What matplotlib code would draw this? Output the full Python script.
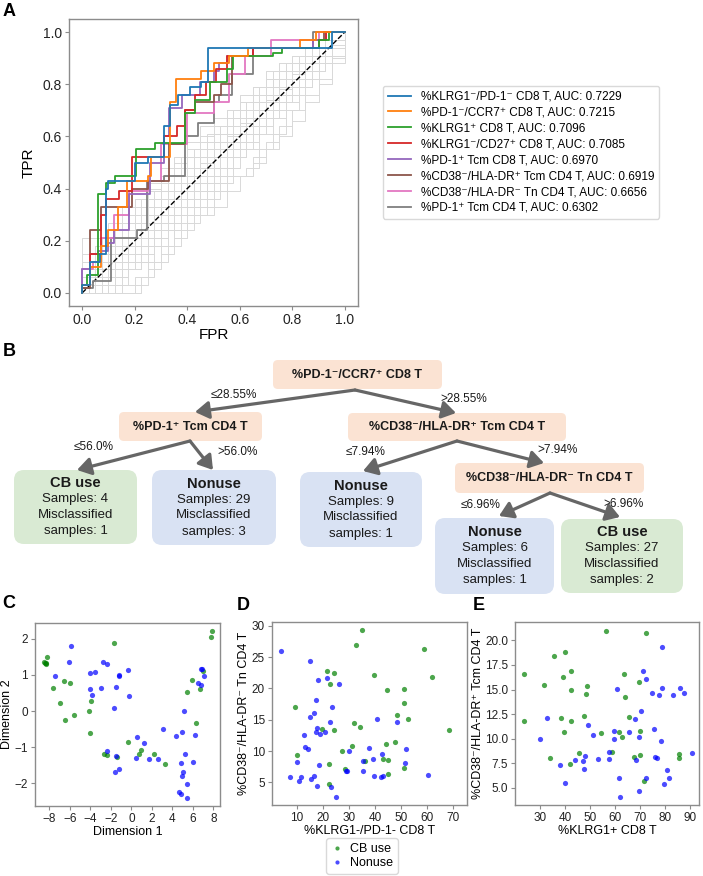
import numpy as np
import matplotlib.pyplot as plt
from matplotlib.patches import FancyBboxPatch, FancyArrowPatch
from matplotlib.lines import Line2D

plt.rcParams['font.family'] = ['Liberation Sans', 'DejaVu Sans']

# ---------------- Panel A: ROC curves ----------------
roc_names = ['%KLRG1⁻/PD-1⁻ CD8 T', '%PD-1⁻/CCR7⁺ CD8 T', '%KLRG1⁺ CD8 T',
             '%KLRG1⁻/CD27⁺ CD8 T', '%PD-1⁺ Tcm CD8 T', '%CD38⁻/HLA-DR⁺ Tcm CD4 T',
             '%CD38⁻/HLA-DR⁻ Tn CD4 T', '%PD-1⁺ Tcm CD4 T']
roc_auc = [0.7229, 0.7215, 0.7096, 0.7085, 0.6970, 0.6919, 0.6656, 0.6302]

klrg1_pd1_fpr = [0, 0.03, 0.067, 0.092, 0.1, 0.2, 0.25, 0.31, 0.333, 0.365, 0.41, 0.453, 0.478, 0.95, 1.0]
klrg1_pd1_tpr = [0.03, 0.12, 0.15, 0.40, 0.43, 0.50, 0.52, 0.64, 0.72, 0.76, 0.79, 0.81, 0.94, 1.0, 1.0]
pd1_ccr7_fpr = [0, 0.03, 0.07, 0.1, 0.137, 0.172, 0.25, 0.263, 0.333, 0.356, 0.453, 0.5, 0.56, 0.63, 0.83, 0.89, 1.0]
pd1_ccr7_tpr = [0.03, 0.10, 0.18, 0.24, 0.33, 0.43, 0.45, 0.52, 0.73, 0.82, 0.85, 0.88, 0.91, 0.94, 0.97, 1.0, 1.0]
klrg1_fpr = [0, 0.02, 0.06, 0.092, 0.124, 0.206, 0.276, 0.39, 0.43, 0.485, 0.55, 0.575, 0.725, 0.76, 0.9, 0.94, 1.0]
klrg1_tpr = [0.03, 0.07, 0.38, 0.42, 0.45, 0.55, 0.575, 0.69, 0.74, 0.81, 0.86, 0.91, 0.92, 0.94, 0.97, 1.0, 1.0]
klrg1_cd27_fpr = [0, 0.03, 0.07, 0.09, 0.14, 0.19, 0.31, 0.36, 0.39, 0.43, 0.47, 0.51, 0.55, 0.65, 0.9, 0.93, 1.0]
klrg1_cd27_tpr = [0.03, 0.15, 0.30, 0.36, 0.39, 0.52, 0.60, 0.64, 0.70, 0.76, 0.81, 0.86, 0.91, 0.94, 0.97, 1.0, 1.0]
pd1_tcm_cd8_fpr = [0, 0.03, 0.06, 0.1, 0.12, 0.18, 0.26, 0.31, 0.33, 0.38, 0.45, 0.5, 0.52, 0.55, 0.65, 0.88, 0.93, 1.0]
pd1_tcm_cd8_tpr = [0.09, 0.15, 0.16, 0.19, 0.24, 0.38, 0.50, 0.60, 0.71, 0.76, 0.81, 0.85, 0.88, 0.91, 0.94, 0.97, 1.0, 1.0]
cd38_dr_tcm_fpr = [0, 0.03, 0.07, 0.19, 0.25, 0.33, 0.39, 0.43, 0.5, 0.53, 0.57, 0.65, 0.88, 0.92, 1.0]
cd38_dr_tcm_tpr = [0.02, 0.24, 0.33, 0.40, 0.43, 0.57, 0.70, 0.73, 0.76, 0.80, 0.91, 0.94, 0.97, 1.0, 1.0]
cd38_dr_tn_fpr = [0, 0.04, 0.07, 0.12, 0.18, 0.25, 0.3, 0.4, 0.5, 0.56, 0.62, 0.72, 0.9, 1.0]
cd38_dr_tn_tpr = [0.09, 0.12, 0.21, 0.30, 0.39, 0.43, 0.57, 0.69, 0.73, 0.84, 0.91, 0.97, 1.0, 1.0]
pd1_tcm_cd4_fpr = [0, 0.04, 0.11, 0.21, 0.245, 0.31, 0.39, 0.44, 0.5, 0.52, 0.57, 0.65, 0.88, 1.0]
pd1_tcm_cd4_tpr = [0.02, 0.045, 0.21, 0.24, 0.43, 0.45, 0.60, 0.65, 0.73, 0.76, 0.84, 0.94, 1.0, 1.0]

roc_fpr = [klrg1_pd1_fpr, pd1_ccr7_fpr, klrg1_fpr, klrg1_cd27_fpr,
           pd1_tcm_cd8_fpr, cd38_dr_tcm_fpr, cd38_dr_tn_fpr, pd1_tcm_cd4_fpr]
roc_tpr = [klrg1_pd1_tpr, pd1_ccr7_tpr, klrg1_tpr, klrg1_cd27_tpr,
           pd1_tcm_cd8_tpr, cd38_dr_tcm_tpr, cd38_dr_tn_tpr, pd1_tcm_cd4_tpr]

# other features (light grey background curves), TPR read on two FPR grids
gray_fpr_a = [0, 0.05, 0.1, 0.15, 0.2, 0.25, 0.3, 0.35, 0.4, 0.45, 0.5,
              0.55, 0.6, 0.65, 0.7, 0.75, 0.8, 0.85, 0.9, 0.95, 1.0]
gray_fpr_b = [0, 0.025, 0.075, 0.125, 0.175, 0.225, 0.275, 0.325, 0.375, 0.425, 0.475,
              0.525, 0.575, 0.625, 0.675, 0.725, 0.775, 0.825, 0.875, 0.925, 1.0]
gray_tpr_a = [
    [0.0, 0.06, 0.12, 0.18, 0.24, 0.30, 0.36, 0.42, 0.45, 0.5, 0.55, 0.6, 0.65, 0.7, 0.74, 0.78, 0.84, 0.88, 0.91, 0.95, 1.0],
    [0.03, 0.09, 0.15, 0.21, 0.27, 0.33, 0.39, 0.42, 0.48, 0.52, 0.58, 0.64, 0.7, 0.73, 0.79, 0.82, 0.85, 0.91, 0.94, 0.97, 1.0],
    [0.0, 0.0, 0.03, 0.09, 0.15, 0.21, 0.27, 0.3, 0.36, 0.42, 0.48, 0.55, 0.61, 0.67, 0.73, 0.79, 0.85, 0.88, 0.91, 0.94, 1.0],
    [0.0, 0.0, 0.0, 0.03, 0.06, 0.12, 0.18, 0.24, 0.3, 0.33, 0.39, 0.45, 0.45, 0.52, 0.58, 0.64, 0.7, 0.76, 0.82, 0.9, 1.0],
    [0.0, 0.0, 0.0, 0.0, 0.03, 0.09, 0.15, 0.21, 0.27, 0.3, 0.33, 0.39, 0.45, 0.5, 0.55, 0.6, 0.66, 0.73, 0.8, 0.88, 1.0],
    [0.21, 0.21, 0.27, 0.33, 0.36, 0.42, 0.48, 0.52, 0.55, 0.6, 0.64, 0.7, 0.73, 0.76, 0.82, 0.85, 0.88, 0.91, 0.94, 0.97, 1.0],
    [0.12, 0.18, 0.24, 0.27, 0.33, 0.39, 0.45, 0.48, 0.52, 0.58, 0.61, 0.67, 0.73, 0.79, 0.82, 0.88, 0.91, 0.94, 0.97, 1.0, 1.0],
    [0.06, 0.12, 0.21, 0.3, 0.36, 0.4, 0.45, 0.5, 0.58, 0.64, 0.67, 0.7, 0.76, 0.79, 0.85, 0.88, 0.91, 0.94, 0.97, 0.97, 1.0],
    [0.0, 0.03, 0.09, 0.15, 0.21, 0.27, 0.33, 0.39, 0.45, 0.48, 0.52, 0.58, 0.64, 0.7, 0.76, 0.82, 0.88, 0.91, 0.94, 0.97, 1.0],
    [0.03, 0.03, 0.06, 0.12, 0.18, 0.24, 0.27, 0.33, 0.39, 0.45, 0.52, 0.58, 0.64, 0.67, 0.73, 0.79, 0.82, 0.85, 0.88, 0.94, 1.0],
    [0.09, 0.15, 0.18, 0.24, 0.3, 0.36, 0.42, 0.45, 0.52, 0.55, 0.61, 0.67, 0.7, 0.76, 0.79, 0.85, 0.88, 0.94, 0.97, 1.0, 1.0],
    [0.0, 0.0, 0.06, 0.09, 0.12, 0.18, 0.24, 0.3, 0.33, 0.39, 0.42, 0.48, 0.55, 0.61, 0.67, 0.73, 0.76, 0.82, 0.88, 0.91, 1.0],
    [0.03, 0.09, 0.12, 0.15, 0.24, 0.3, 0.33, 0.36, 0.42, 0.48, 0.55, 0.61, 0.67, 0.7, 0.76, 0.82, 0.88, 0.91, 0.94, 0.97, 1.0],
    [0.0, 0.06, 0.09, 0.15, 0.18, 0.24, 0.3, 0.36, 0.42, 0.45, 0.48, 0.55, 0.58, 0.64, 0.7, 0.76, 0.82, 0.85, 0.91, 0.94, 1.0],
    [0.06, 0.09, 0.15, 0.21, 0.27, 0.33, 0.36, 0.42, 0.48, 0.55, 0.58, 0.64, 0.7, 0.76, 0.82, 0.85, 0.88, 0.91, 0.94, 0.97, 1.0],
    [0.0, 0.03, 0.06, 0.09, 0.15, 0.18, 0.24, 0.3, 0.36, 0.42, 0.45, 0.52, 0.58, 0.64, 0.7, 0.76, 0.79, 0.85, 0.91, 0.97, 1.0],
]
gray_tpr_b = [
    [0.0, 0.03, 0.09, 0.12, 0.18, 0.21, 0.27, 0.33, 0.39, 0.45, 0.48, 0.55, 0.61, 0.67, 0.73, 0.76, 0.82, 0.88, 0.91, 0.97, 1.0],
    [0.06, 0.06, 0.12, 0.18, 0.24, 0.27, 0.33, 0.39, 0.42, 0.48, 0.52, 0.58, 0.61, 0.67, 0.73, 0.79, 0.85, 0.88, 0.94, 0.97, 1.0],
    [0.0, 0.0, 0.0, 0.06, 0.12, 0.18, 0.21, 0.27, 0.33, 0.39, 0.45, 0.52, 0.58, 0.64, 0.7, 0.73, 0.79, 0.85, 0.91, 0.94, 1.0],
    [0.15, 0.15, 0.21, 0.24, 0.3, 0.36, 0.39, 0.45, 0.52, 0.55, 0.61, 0.64, 0.7, 0.73, 0.79, 0.85, 0.88, 0.91, 0.94, 0.97, 1.0],
    [0.0, 0.0, 0.03, 0.06, 0.09, 0.15, 0.21, 0.27, 0.33, 0.36, 0.42, 0.48, 0.52, 0.58, 0.64, 0.7, 0.76, 0.82, 0.85, 0.91, 1.0],
    [0.03, 0.06, 0.12, 0.18, 0.21, 0.27, 0.3, 0.36, 0.42, 0.48, 0.55, 0.58, 0.64, 0.7, 0.76, 0.79, 0.85, 0.91, 0.94, 0.97, 1.0],
    [0.09, 0.12, 0.15, 0.21, 0.27, 0.3, 0.36, 0.42, 0.45, 0.52, 0.58, 0.61, 0.67, 0.73, 0.76, 0.82, 0.85, 0.88, 0.94, 0.97, 1.0],
    [0.0, 0.0, 0.0, 0.0, 0.0, 0.06, 0.12, 0.18, 0.24, 0.3, 0.36, 0.42, 0.45, 0.48, 0.55, 0.61, 0.7, 0.79, 0.85, 0.91, 1.0],
    [0.06, 0.09, 0.12, 0.18, 0.24, 0.3, 0.33, 0.39, 0.45, 0.52, 0.58, 0.64, 0.67, 0.73, 0.79, 0.82, 0.88, 0.91, 0.94, 1.0, 1.0],
    [0.0, 0.03, 0.06, 0.12, 0.15, 0.21, 0.27, 0.33, 0.36, 0.42, 0.45, 0.52, 0.55, 0.61, 0.67, 0.73, 0.79, 0.85, 0.88, 0.94, 1.0],
    [0.03, 0.03, 0.09, 0.15, 0.18, 0.24, 0.3, 0.33, 0.39, 0.42, 0.48, 0.55, 0.61, 0.64, 0.7, 0.76, 0.82, 0.85, 0.91, 0.94, 1.0],
    [0.0, 0.0, 0.03, 0.03, 0.09, 0.12, 0.18, 0.24, 0.27, 0.33, 0.39, 0.45, 0.52, 0.55, 0.61, 0.67, 0.73, 0.79, 0.85, 0.91, 1.0],
]

# ---------------- Panel B: decision tree ----------------
split_features = ['%PD-1⁻/CCR7⁺ CD8 T', '%PD-1⁺ Tcm CD4 T',
                  '%CD38⁻/HLA-DR⁺ Tcm CD4 T', '%CD38⁻/HLA-DR⁻ Tn CD4 T']
split_thresholds = ['28.55%', '56.0%', '7.94%', '6.96%']
leaf_class = ['CB use', 'Nonuse', 'Nonuse', 'Nonuse', 'CB use']
leaf_samples = [4, 29, 9, 6, 27]
leaf_misclassified = [1, 3, 1, 1, 2]

# ---------------- Panels C-E: scatter ----------------
c_cb_x = [-8.36, -8.4, -8.3, -8.26, -8.49, -7.61, -6.54, -5.95, -6.93, -6.44, -5.56, -4.16, -3.9, -4.03, -1.69,
          -2.63, -2.41, -1.43, -0.33, 0.72, 0.98, 2.24, 3.28, 5.89, 5.43, 6.28, 6.7, 7.0, 7.74, 7.87]
c_cb_y = [1.34, 1.32, 1.3, 1.51, 1.37, 0.64, 0.82, 0.79, 0.21, -0.24, -0.12, 0.0, 0.28, -0.6, 1.88,
          -1.2, -1.23, -1.26, -0.87, -1.2, -1.07, -1.2, -1.46, 0.86, 0.53, -0.34, 0.6, 1.12, 2.06, 2.21]
c_non_x = [-7.41, -5.85, -6.11, -4.07, -3.58, -4.03, -3.87, -2.93, -2.8, -2.41, -1.2, -1.18, -1.53, -1.66, -0.36,
           -0.2, -2.37, -1.53, -1.63, -1.17, 0.52, 1.27, 0.49, 1.72, 2.6, 3.09, 4.33, 4.91, 5.17, 5.24,
           4.85, 5.01, 4.91, 5.4, 4.62, 4.81, 5.43, 5.98, 6.21, 6.5, 6.8, 6.8, 6.93, 7.05]
c_non_y = [0.97, 1.81, 1.37, 1.05, 1.08, 0.61, 0.44, 0.65, 1.35, 1.3, 0.98, 0.99, 0.67, 0.08, 1.14,
           0.43, -1.1, -1.24, -1.68, -1.6, -0.71, -0.89, -1.29, -1.32, -1.32, -0.51, -0.68, -0.57, 0.0, -1.19,
           -1.45, -1.68, -1.81, -2.03, -2.25, -2.31, -2.4, -1.4, -0.65, 0.78, 0.72, 1.16, 1.17, 0.97]

d_cb_x = [9.4, 10, 19.6, 21.7, 22.8, 24.4, 24.4, 22.3, 22.4, 27.5, 28.4, 31.1, 32.1, 32.8, 34.3, 35.2,
          36.3, 39.8, 43.2, 44.2, 44.6, 45.0, 45.2, 47.9, 48.4, 51, 51.3, 51.3, 52.9, 58.7, 62.1, 68.4]
d_cb_y = [17.1, 9.4, 13.5, 22.8, 20.7, 22.5, 13.3, 7.9, 4.8, 10.0, 7.1, 10.8, 14.5, 26.9, 13.9, 29.4,
          8.5, 22.1, 8.7, 11.2, 19.7, 8.6, 6.4, 11.5, 15.7, 19.9, 17.7, 7.3, 15.2, 26.3, 21.9, 13.4]
d_non_x = [3.9, 7.2, 10, 11.4, 10.9, 12.6, 13.2, 14.3, 14.9, 15.1, 15.5, 16.4, 16.5, 17.4, 17.4, 17.9,
           18.2, 17.7, 18.3, 18.8, 20.9, 21.4, 22.6, 23.4, 23.0, 25.1, 26.1, 28.9, 29.3, 29.9, 35.4, 35.5,
           37.8, 39.4, 39.5, 40.8, 42.7, 42.4, 43.1, 48.4, 52.0, 51.6, 60.3]
d_non_y = [26.0, 5.8, 8.3, 5.8, 5.2, 12.6, 10.6, 10.3, 15.5, 24.4, 5.6, 6.1, 16.1, 18.1, 13.0, 13.7,
           21.3, 4.5, 7.8, 12.8, 13.1, 21.7, 14.7, 17.0, 4.2, 2.7, 20.7, 6.9, 6.9, 10.0, 8.5, 6.8,
           10.5, 8.8, 6.1, 15.1, 9.5, 5.8, 6.1, 14.7, 10.4, 8.1, 6.2]

e_cb_x = [23.5, 23.6, 31.6, 34.0, 35.7, 38.4, 39.1, 39.5, 39.9, 42.4, 42.5, 42.4, 42.0, 47.5, 48.5, 48.9, 45.6,
          54.3, 56.4, 58.9, 61.6, 62.8, 63.5, 64.0, 65.6, 67.6, 69.7, 70.1, 70.1, 71.5, 72.5, 85.5, 85.5]
e_cb_y = [16.6, 11.8, 15.5, 8.0, 18.4, 12.1, 16.3, 10.7, 18.8, 16.9, 15.0, 11.8, 7.4, 12.3, 14.6, 15.4, 8.6,
          10.6, 21.0, 8.7, 10.7, 10.2, 16.6, 14.2, 12.2, 8.1, 15.8, 10.8, 8.4, 5.7, 20.8, 8.5, 8.0]
e_non_x = [30, 32.7, 38, 39.9, 44, 47.3, 47.9, 47.7, 49.2, 51.2, 53.1, 57.6, 57.7, 59.5, 59.6, 60.7, 61.6,
           62.1, 65.5, 67.9, 68.3, 69.6, 69.6, 70.4, 71.3, 72.5, 72.3, 74.7, 75.7, 76.0, 76.7, 78.3, 77.7,
           78.7, 78.8, 79.5, 80.7, 81.6, 83.3, 86, 87.5, 91]
e_non_y = [10.0, 12.1, 7.3, 5.5, 7.8, 7.7, 8.3, 6.9, 11.4, 10.4, 7.9, 8.7, 7.9, 10.8, 10.0, 15.1, 6.0,
           4.1, 10.7, 12.0, 7.8, 10.2, 4.7, 12.8, 16.9, 16.1, 6.0, 14.7, 11.0, 8.1, 8.0, 9.8, 14.4,
           19.3, 15.2, 5.4, 6.8, 6.0, 14.5, 15.2, 14.7, 8.6]

W, H = 703, 876
fig = plt.figure(figsize=(W / 100, H / 100), dpi=100)


def px_axes(left, top, right, bottom):
    return fig.add_axes([left / W, 1 - bottom / H, (right - left) / W, (bottom - top) / H], zorder=2)


def style_axes(ax, size):
    for sp in ax.spines.values():
        sp.set_color('#8c8c8c')
        sp.set_linewidth(1.0)
    ax.tick_params(length=3, width=0.8, color='#8c8c8c', labelsize=size, labelcolor='#222222', pad=2)


# ---- B (tree) drawn on a pixel-space canvas ----
axb = fig.add_axes([0, 0, 1, 1], zorder=0)
axb.set_xlim(0, W)
axb.set_ylim(H, 0)
axb.axis('off')

peach, green_bg, blue_bg = '#fbe3d3', '#d9ead3', '#d9e2f3'
arrow_c = '#666666'

split_boxes = [(357.5, 374.5, 169, 29), (190.5, 426.5, 143, 29), (457, 427, 218, 28), (549.5, 478, 189, 30)]
leaf_boxes = [(75.5, 507, 123, 74), (214, 507.5, 124, 75), (361, 509.5, 122, 75),
              (494.5, 556, 119, 76), (622, 556, 122, 74)]

for (cx, cy, w, h), name in zip(split_boxes, split_features):
    axb.add_patch(FancyBboxPatch((cx - w / 2, cy - h / 2), w, h, boxstyle='round,pad=0,rounding_size=5',
                                 fc=peach, ec='none'))
    axb.text(cx, cy, name, ha='center', va='center', fontsize=9, fontweight='bold', color='#1a1a1a')

for (cx, cy, w, h), cls, n, m in zip(leaf_boxes, leaf_class, leaf_samples, leaf_misclassified):
    fc = green_bg if cls == 'CB use' else blue_bg
    axb.add_patch(FancyBboxPatch((cx - w / 2, cy - h / 2), w, h, boxstyle='round,pad=0,rounding_size=10',
                                 fc=fc, ec='none'))
    axb.text(cx, cy - 24, cls, ha='center', va='center', fontsize=10.5, fontweight='bold', color='#1a1a1a')
    axb.text(cx, cy - 8, f'Samples: {n}', ha='center', va='center', fontsize=9.5, color='#1a1a1a')
    axb.text(cx, cy + 8, 'Misclassified', ha='center', va='center', fontsize=9.5, color='#1a1a1a')
    axb.text(cx, cy + 24, f'samples: {m}', ha='center', va='center', fontsize=9.5, color='#1a1a1a')

edges = [((355, 390), (195, 412)), ((355, 390), (456, 413)),
         ((190, 441), (77, 470)), ((190, 441), (213, 470)),
         ((457, 441), (363, 471)), ((457, 441), (544, 463)),
         ((550, 493), (499, 516)), ((550, 493), (620, 517))]
for a, b in edges:
    axb.add_patch(FancyArrowPatch(a, b, arrowstyle='-|>,head_length=0.55,head_width=0.35',
                                  mutation_scale=15, lw=2.3, color=arrow_c, shrinkA=0, shrinkB=0))

thr_pos = [((234, 395), (464, 399)), ((94, 447), (238, 452)),
           ((366, 452), (557, 450)), ((481, 505), (624, 504))]
for ((lx, ly), (rx, ry)), t in zip(thr_pos, split_thresholds):
    axb.text(lx, ly, '≤' + t, ha='center', va='center', fontsize=8.5, color='#1a1a1a')
    axb.text(rx, ry, '>' + t, ha='center', va='center', fontsize=8.5, color='#1a1a1a')

# ---- A ----
axa = px_axes(69, 19, 358, 306)
for grid, curves in [(gray_fpr_a, gray_tpr_a), (gray_fpr_b, gray_tpr_b)]:
    for t in curves:
        axa.plot(np.r_[0, grid], np.r_[0, t], drawstyle='steps-post', color='#d9d9d9', lw=0.7, zorder=1)
axa.plot([0, 1], [0, 1], ls='--', color='black', lw=1, zorder=2)
colors = plt.rcParams['axes.prop_cycle'].by_key()['color']
handles = []
for i in range(len(roc_names)):
    ln, = axa.plot(np.r_[0, roc_fpr[i]], np.r_[0, roc_tpr[i]], drawstyle='steps-post',
                   color=colors[i], lw=1.3, zorder=3 + len(roc_names) - i)
    handles.append(ln)
axa.set_xlim(-0.05, 1.05)
axa.set_ylim(-0.05, 1.05)
axa.set_xticks([0, 0.2, 0.4, 0.6, 0.8, 1.0])
axa.set_yticks([0, 0.2, 0.4, 0.6, 0.8, 1.0])
style_axes(axa, 10)
axa.set_xlabel('FPR', fontsize=11, labelpad=1)
axa.set_ylabel('TPR', fontsize=11, labelpad=5)
fig.legend(handles, [f'{n}, AUC: {a:.4f}' for n, a in zip(roc_names, roc_auc)],
           loc='upper left', bbox_to_anchor=(383 / W, 1 - 86 / H), fontsize=8.5,
           frameon=True, edgecolor='#d0d0d0', borderaxespad=0, handlelength=2.0,
           labelspacing=0.33)

# ---- C, D, E ----
cb_col, non_col = 'green', 'blue'


def scatter_panel(ax, cbx, cby, nx, ny):
    ax.scatter(cbx, cby, s=14, color=cb_col, alpha=0.7, linewidths=0, zorder=3)
    ax.scatter(nx, ny, s=14, color=non_col, alpha=0.7, linewidths=0, zorder=3)
    style_axes(ax, 8.5)


axc = px_axes(35, 623, 220, 806)
scatter_panel(axc, c_cb_x, c_cb_y, c_non_x, c_non_y)
axc.set_xlim(-9.4, 8.65)
axc.set_ylim(-2.63, 2.44)
axc.set_xticks(range(-8, 9, 2))
axc.set_yticks(range(-2, 3))
axc.set_xlabel('Dimension 1', fontsize=9, labelpad=1)
axc.set_ylabel('Dimension 2', fontsize=9, labelpad=1)

axd = px_axes(272, 622, 467, 805)
scatter_panel(axd, d_cb_x, d_cb_y, d_non_x, d_non_y)
axd.set_xlim(0.4, 75.4)
axd.set_ylim(1.4, 30.6)
axd.set_xticks(range(10, 71, 10))
axd.set_yticks(range(5, 31, 5))
axd.set_xlabel('%KLRG1-/PD-1- CD8 T', fontsize=9, labelpad=1)
axd.set_ylabel('%CD38⁻/HLA-DR⁻ Tn CD4 T', fontsize=9, labelpad=1)

axe = px_axes(515, 622, 699, 805)
scatter_panel(axe, e_cb_x, e_cb_y, e_non_x, e_non_y)
axe.set_xlim(20, 93.7)
axe.set_ylim(3.27, 21.87)
axe.set_xticks(range(30, 91, 10))
axe.set_yticks([5.0, 7.5, 10.0, 12.5, 15.0, 17.5, 20.0])
axe.set_xlabel('%KLRG1+ CD8 T', fontsize=9, labelpad=1)
axe.set_ylabel('%CD38⁻/HLA-DR⁺ Tcm CD4 T', fontsize=9, labelpad=1)

leg_h = [Line2D([], [], ls='none', marker='o', ms=3, color=cb_col, alpha=0.7, mec='none'),
         Line2D([], [], ls='none', marker='o', ms=3, color=non_col, alpha=0.7, mec='none')]
fig.legend(leg_h, ['CB use', 'Nonuse'], loc='upper center', bbox_to_anchor=(362 / W, 1 - 838 / H),
           fontsize=9, frameon=True, edgecolor='#d0d0d0', borderaxespad=0, handlelength=1.0,
           handletextpad=0.5, labelspacing=0.15)

# panel letters
for letter, x, y in [('A', 9, 12), ('B', 9, 351), ('C', 9, 603), ('D', 243, 606), ('E', 479, 605)]:
    fig.text(x / W, 1 - y / H, letter, fontsize=13, fontweight='bold', ha='center', va='center')

fig.savefig('out.png', dpi=100)
